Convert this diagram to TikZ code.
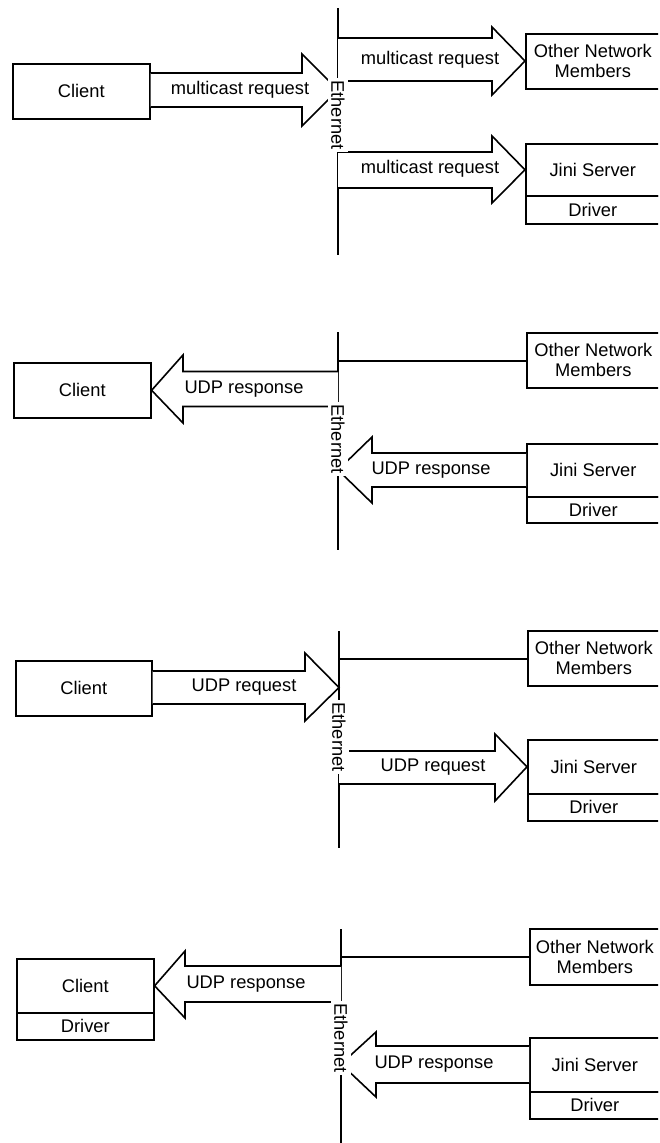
\documentclass[tikz,border=0pt]{standalone}
\usepackage{fontspec}
\setmainfont{Liberation Sans}
\newcommand\dfont{\fontsize{18.3pt}{20pt}\selectfont}
\begin{document}
\begin{tikzpicture}[x=1pt,y=-1pt,
  lw/.style={line width=1.6pt},
  box/.style={draw, lw, anchor=north west, inner sep=0pt, font=\dfont, align=center},
  blockarrow/.style={draw, lw, line join=miter, fill=white},
  ethline/.style={lw},
  ethlabel/.style={fill=white, rotate=-90, inner xsep=2pt, inner ysep=3pt, font=\dfont},
  tag/.style={font=\dfont, inner sep=0pt}]
\useasboundingbox (0,0) rectangle (659,1143);
\begin{scope}
\clip (0,0) rectangle (658.0,1143);

% ================= Panel 1 =================
\coordinate (et1) at (338,8);
\coordinate (eb1) at (338,255);
\draw[ethline] (et1) -- (eb1);
\node[box, minimum width=137pt, minimum height=55pt] (c1) at (12,63) {Client};
\node[box, minimum width=134pt, minimum height=55pt] (o1) at (525,33) {Other Network\\Members};
\node[box, minimum width=134pt, minimum height=52pt] (j1) at (525,143) {Jini Server};
\node[box, minimum width=134pt, minimum height=28pt] (d1) at (525,195) {Driver};
% client -> ethernet
\draw[blockarrow] (c1.east |- 0,73) -- (302,73) -- (302,54) -- (338,90) -- (302,126) -- (302,107) -- (c1.east |- 0,107);
\node[tag] (m1) at (240,90) {multicast request};
% ethernet -> other
\draw[blockarrow] (et1 |- 0,38) -- (492,38) -- (492,27) -- (o1.west |- 0,61) -- (492,95) -- (492,81) -- (et1 |- 0,81);
\node[tag] (m2) at (430,60) {multicast request};
% ethernet -> jini
\draw[blockarrow] (et1 |- 0,152) -- (492,152) -- (492,136) -- (j1.west) -- (492,203) -- (492,188) -- (et1 |- 0,188);
\node[tag] (m3) at (430,169) {multicast request};
\node[ethlabel] (e1) at (338,115) {Ethernet};

% ================= Panel 2 =================
\coordinate (et2) at (338,332);
\coordinate (eb2) at (338,550);
\draw[ethline] (et2) -- (eb2);
\node[box, minimum width=137pt, minimum height=55pt] (c2) at (13,362) {Client};
\node[box, minimum width=133pt, minimum height=55pt] (o2) at (526,332) {Other Network\\Members};
\node[box, minimum width=133pt, minimum height=53pt] (j2) at (526,443) {Jini Server};
\node[box, minimum width=133pt, minimum height=26pt] (d2) at (526,496) {Driver};
\coordinate (x2) at (338,361);
\draw[lw] (x2) -- (x2 -| o2.west);
% ethernet -> client
\draw[blockarrow] (et2 |- 0,371.5) -- (183,371.5) -- (183,355) -- (c2.east) -- (183,423) -- (183,406.5) -- (et2 |- 0,406.5);
\node[tag] (u1) at (244,389) {UDP response};
% jini -> ethernet
\draw[blockarrow] (j2.west |- 0,453) -- (372,453) -- (372,437) -- (338,470) -- (372,503) -- (372,487) -- (j2.west |- 0,487);
\node[tag] (u2) at (431,470) {UDP response};
\node[ethlabel] (e2) at (338,439) {Ethernet};

% ================= Panel 3 =================
\coordinate (et3) at (339,631);
\coordinate (eb3) at (339,848);
\draw[ethline] (et3) -- (eb3);
\node[box, minimum width=136pt, minimum height=55pt] (c3) at (15,660) {Client};
\node[box, minimum width=132pt, minimum height=55pt] (o3) at (527,630) {Other Network\\Members};
\node[box, minimum width=132pt, minimum height=54pt] (j3) at (527,739) {Jini Server};
\node[box, minimum width=132pt, minimum height=27pt] (d3) at (527,793) {Driver};
\coordinate (x3) at (339,659);
\draw[lw] (x3) -- (x3 -| o3.west);
% client -> ethernet
\draw[blockarrow] (c3.east |- 0,671) -- (305,671) -- (305,653) -- (339,687.5) -- (305,721) -- (305,704) -- (c3.east |- 0,704);
\node[tag] (r1) at (244,687) {UDP request};
% ethernet -> jini
\draw[blockarrow] (et3 |- 0,751) -- (495,751) -- (495,734) -- (j3.west) -- (495,801) -- (495,784) -- (et3 |- 0,784);
\node[tag] (r2) at (433,767) {UDP request};
\node[ethlabel] (e3) at (339,737) {Ethernet};

% ================= Panel 4 =================
\coordinate (et4) at (341,929);
\coordinate (eb4) at (341,1143);
\draw[ethline] (et4) -- (eb4);
\node[box, minimum width=137pt, minimum height=54pt] (c4) at (16,958) {Client};
\node[box, minimum width=137pt, minimum height=27pt] (cd4) at (16,1012) {Driver};
\node[box, minimum width=130pt, minimum height=56pt] (o4) at (529,928) {Other Network\\Members};
\node[box, minimum width=130pt, minimum height=54pt] (j4) at (529,1037) {Jini Server};
\node[box, minimum width=130pt, minimum height=27pt] (d4) at (529,1091) {Driver};
\coordinate (x4) at (341,957);
\draw[lw] (x4) -- (x4 -| o4.west);
% ethernet -> client
\draw[blockarrow] (et4 |- 0,966) -- (185,966) -- (185,951) -- (c4.east) -- (185,1018) -- (185,1002) -- (et4 |- 0,1002);
\node[tag] (u3) at (246,984) {UDP response};
% jini -> ethernet
\draw[blockarrow] (j4.west |- 0,1046) -- (376,1046) -- (376,1032) -- (341,1064) -- (376,1097) -- (376,1083) -- (j4.west |- 0,1083);
\node[tag] (u4) at (434,1064) {UDP response};
\node[ethlabel] (e4) at (341,1038) {Ethernet};
\end{scope}
\end{tikzpicture}
\end{document}
